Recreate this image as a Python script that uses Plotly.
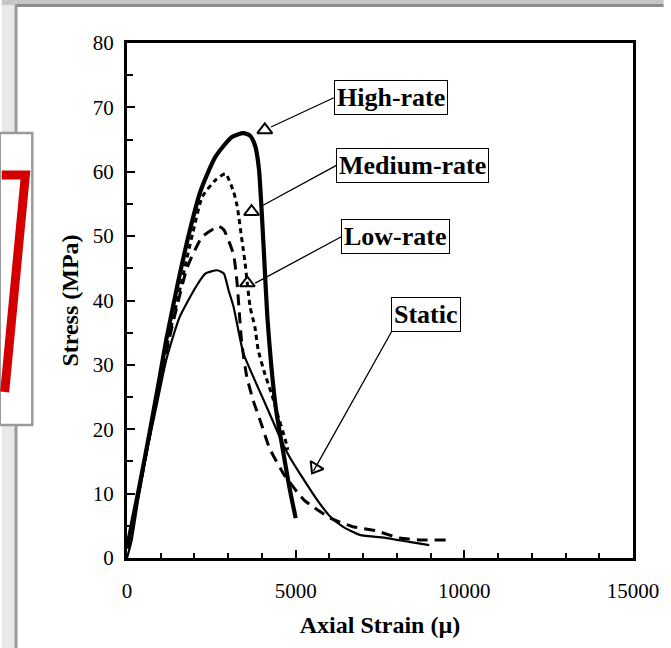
import plotly.graph_objects as go

# ---------------- data ----------------
high_x = [0, 380, 670, 965, 1160, 1500, 1840, 2180, 2620, 3110, 3450, 3650, 3800, 3910, 3980, 4060, 4160, 4280, 4420, 4620, 4810, 5000]
high_y = [1.5, 11.5, 19.5, 28.0, 33.8, 42.5, 50.4, 57.0, 62.3, 65.4, 66.0, 65.6, 64.0, 60.5, 55.0, 47.3, 37.5, 29.7, 23.0, 16.8, 11.1, 6.2]

medium_x = [0, 380, 670, 965, 1250, 1600, 1950, 2230, 2620, 2920, 3160, 3260, 3320, 3380, 3450, 3500, 3650, 3790, 3890, 4080, 4280, 4470, 4670, 4770]
medium_y = [1.5, 11.3, 19.2, 27.5, 34.5, 42.5, 50.5, 56.1, 58.7, 59.7, 56.9, 54.8, 52.8, 50.4, 47.8, 45.8, 39.0, 35.9, 32.3, 28.7, 25.6, 22.2, 18.8, 16.8]

low_x = [0, 380, 670, 965, 1250, 1500, 1790, 2230, 2720, 2870, 3160, 3260, 3400, 3550, 3740, 3990, 4230, 4650, 5250, 6030, 6670, 7400, 8080, 8760, 9500]
low_y = [1.5, 11.0, 19.0, 27.2, 34.0, 39.5, 45.2, 49.9, 51.5, 51.0, 47.1, 42.9, 33.5, 28.2, 24.5, 20.7, 17.0, 13.0, 9.0, 6.2, 4.9, 4.2, 3.1, 2.8, 2.8]

static_x = [0, 140, 330, 580, 870, 1160, 1550, 2040, 2330, 2670, 2870, 3010, 3160, 3450, 3790, 4180, 4570, 4820, 5250, 5640, 6030, 6420, 6900, 7700, 8370, 8960]
static_y = [0, 2.8, 9.0, 16.3, 23.5, 30.7, 37.3, 42.1, 44.2, 44.7, 44.2, 41.6, 39.0, 31.8, 27.6, 23.0, 18.3, 15.7, 12.1, 9.0, 6.4, 4.8, 3.6, 3.1, 2.5, 2.0]

x_tick_vals = [0, 5000, 10000, 15000]
x_tick_text = ["0", "5000", "10000", "15000"]
y_tick_vals = [0, 10, 20, 30, 40, 50, 60, 70, 80]

# label texts, label anchor (box left edge / corner) and arrow tip, data units
label_text = ["High-rate", "Medium-rate", "Low-rate", "Static"]
label_ax = [6132, 6208, 6354, 7837]
label_ay = [71.5, 61.0, 49.9, 35.1]
tip_x = [4269, 4035, 3801, 5526]
tip_y = [66.95, 54.8, 42.7, 13.5]
# triangle markers at the arrow ends
tri_x = [4085, 3693, 3567, 5585]
tri_y = [66.5, 53.8, 42.7, 14.0]
tri_angle = [0, 0, 0, 211]

SERIF = "Liberation Serif"

fig = go.Figure()
fig.add_trace(go.Scatter(x=static_x, y=static_y, mode="lines",
                         line=dict(color="black", width=2.2, shape="spline", smoothing=0.5)))
fig.add_trace(go.Scatter(x=low_x, y=low_y, mode="lines",
                         line=dict(color="black", width=3, dash="11px,7px", shape="spline", smoothing=0.5)))
fig.add_trace(go.Scatter(x=medium_x, y=medium_y, mode="lines",
                         line=dict(color="black", width=3, dash="5px,4px", shape="spline", smoothing=0.5)))
fig.add_trace(go.Scatter(x=high_x, y=high_y, mode="lines",
                         line=dict(color="black", width=4.2, shape="spline", smoothing=0.6)))
fig.add_trace(go.Scatter(x=tri_x, y=tri_y, mode="markers",
                         marker=dict(symbol="triangle-up-open", size=13, color="black",
                                     angle=tri_angle, line=dict(width=2, color="black"))))

anchors = [("left", "middle"), ("left", "middle"), ("left", "middle"), ("left", "bottom")]
for t, ax, ay, x, y, (xa, ya) in zip(label_text, label_ax, label_ay, tip_x, tip_y, anchors):
    fig.add_annotation(x=x, y=y, ax=ax, ay=ay, axref="x", ayref="y", xref="x", yref="y",
                       text="<b>%s</b>" % t, showarrow=True, arrowhead=0, arrowwidth=1.3,
                       arrowcolor="black", xanchor=xa, yanchor=ya,
                       font=dict(family=SERIF, size=26, color="black"),
                       bgcolor="white", bordercolor="black", borderwidth=1, borderpad=2)

# ---------------- page decorations (pixel -> paper) ----------------
L, R, T, B = 127, 640, 43, 558
W, H = 671, 648
def px(v):
    return (v - L) / (R - L)
def py(v):
    return (B - v) / (B - T)

shapes = [
    dict(type="rect", x0=px(0), x1=px(W), y0=py(0), y1=py(5), fillcolor="#c6c6c6", line_width=0),
    dict(type="rect", x0=px(0), x1=px(14), y0=py(5), y1=py(H), fillcolor="#e8e8e8", line_width=0),
    dict(type="line", x0=px(14), x1=px(W), y0=py(5.5), y1=py(5.5), line=dict(color="#8c8c8c", width=3)),
    dict(type="line", x0=px(14.5), x1=px(14.5), y0=py(5), y1=py(H), line=dict(color="#9a9a9a", width=3)),
    dict(type="rect", x0=px(-2), x1=px(31), y0=py(133), y1=py(425), fillcolor="white",
         line=dict(color="#9a9a9a", width=2.5)),
    dict(type="path", path="M %f %f L %f %f L %f %f" % (px(0), py(175), px(24), py(175), px(3), py(392)),
         line=dict(color="#d40000", width=9)),
]
for s in shapes:
    s.setdefault("xref", "paper")
    s.setdefault("yref", "paper")
    s["layer"] = "above"
fig.update_layout(shapes=shapes)

fig.update_layout(
    width=W, height=H,
    margin=dict(l=L, r=W - R, t=T, b=H - B),
    paper_bgcolor="white", plot_bgcolor="white",
    showlegend=False,
    font=dict(family=SERIF, color="black"),
    xaxis=dict(range=[0, 15000], tickvals=x_tick_vals, ticktext=x_tick_text,
               ticks="inside", ticklen=8, tickwidth=2, tickcolor="black",
               minor=dict(dtick=1000, ticks="inside", ticklen=5, tickwidth=1.5, tickcolor="black"),
               showline=True, linewidth=3, linecolor="black", mirror=True,
               showgrid=False, zeroline=False,
               tickfont=dict(family=SERIF, size=21, color="black"), ticklabelstandoff=12,
               title=dict(text="<b>Axial Strain (µ)</b>", font=dict(family=SERIF, size=24, color="black"),
                          standoff=14)),
    yaxis=dict(range=[0, 80], tickvals=y_tick_vals,
               ticks="inside", ticklen=8, tickwidth=2, tickcolor="black",
               minor=dict(dtick=5, ticks="inside", ticklen=6, tickwidth=1.5, tickcolor="black"),
               showline=True, linewidth=3, linecolor="black", mirror=True,
               showgrid=False, zeroline=False,
               tickfont=dict(family=SERIF, size=21, color="black"), ticklabelstandoff=6,
               title=dict(text="<b>Stress (MPa)</b>", font=dict(family=SERIF, size=24, color="black"),
                          standoff=8)),
)

fig.write_html("out.html")
